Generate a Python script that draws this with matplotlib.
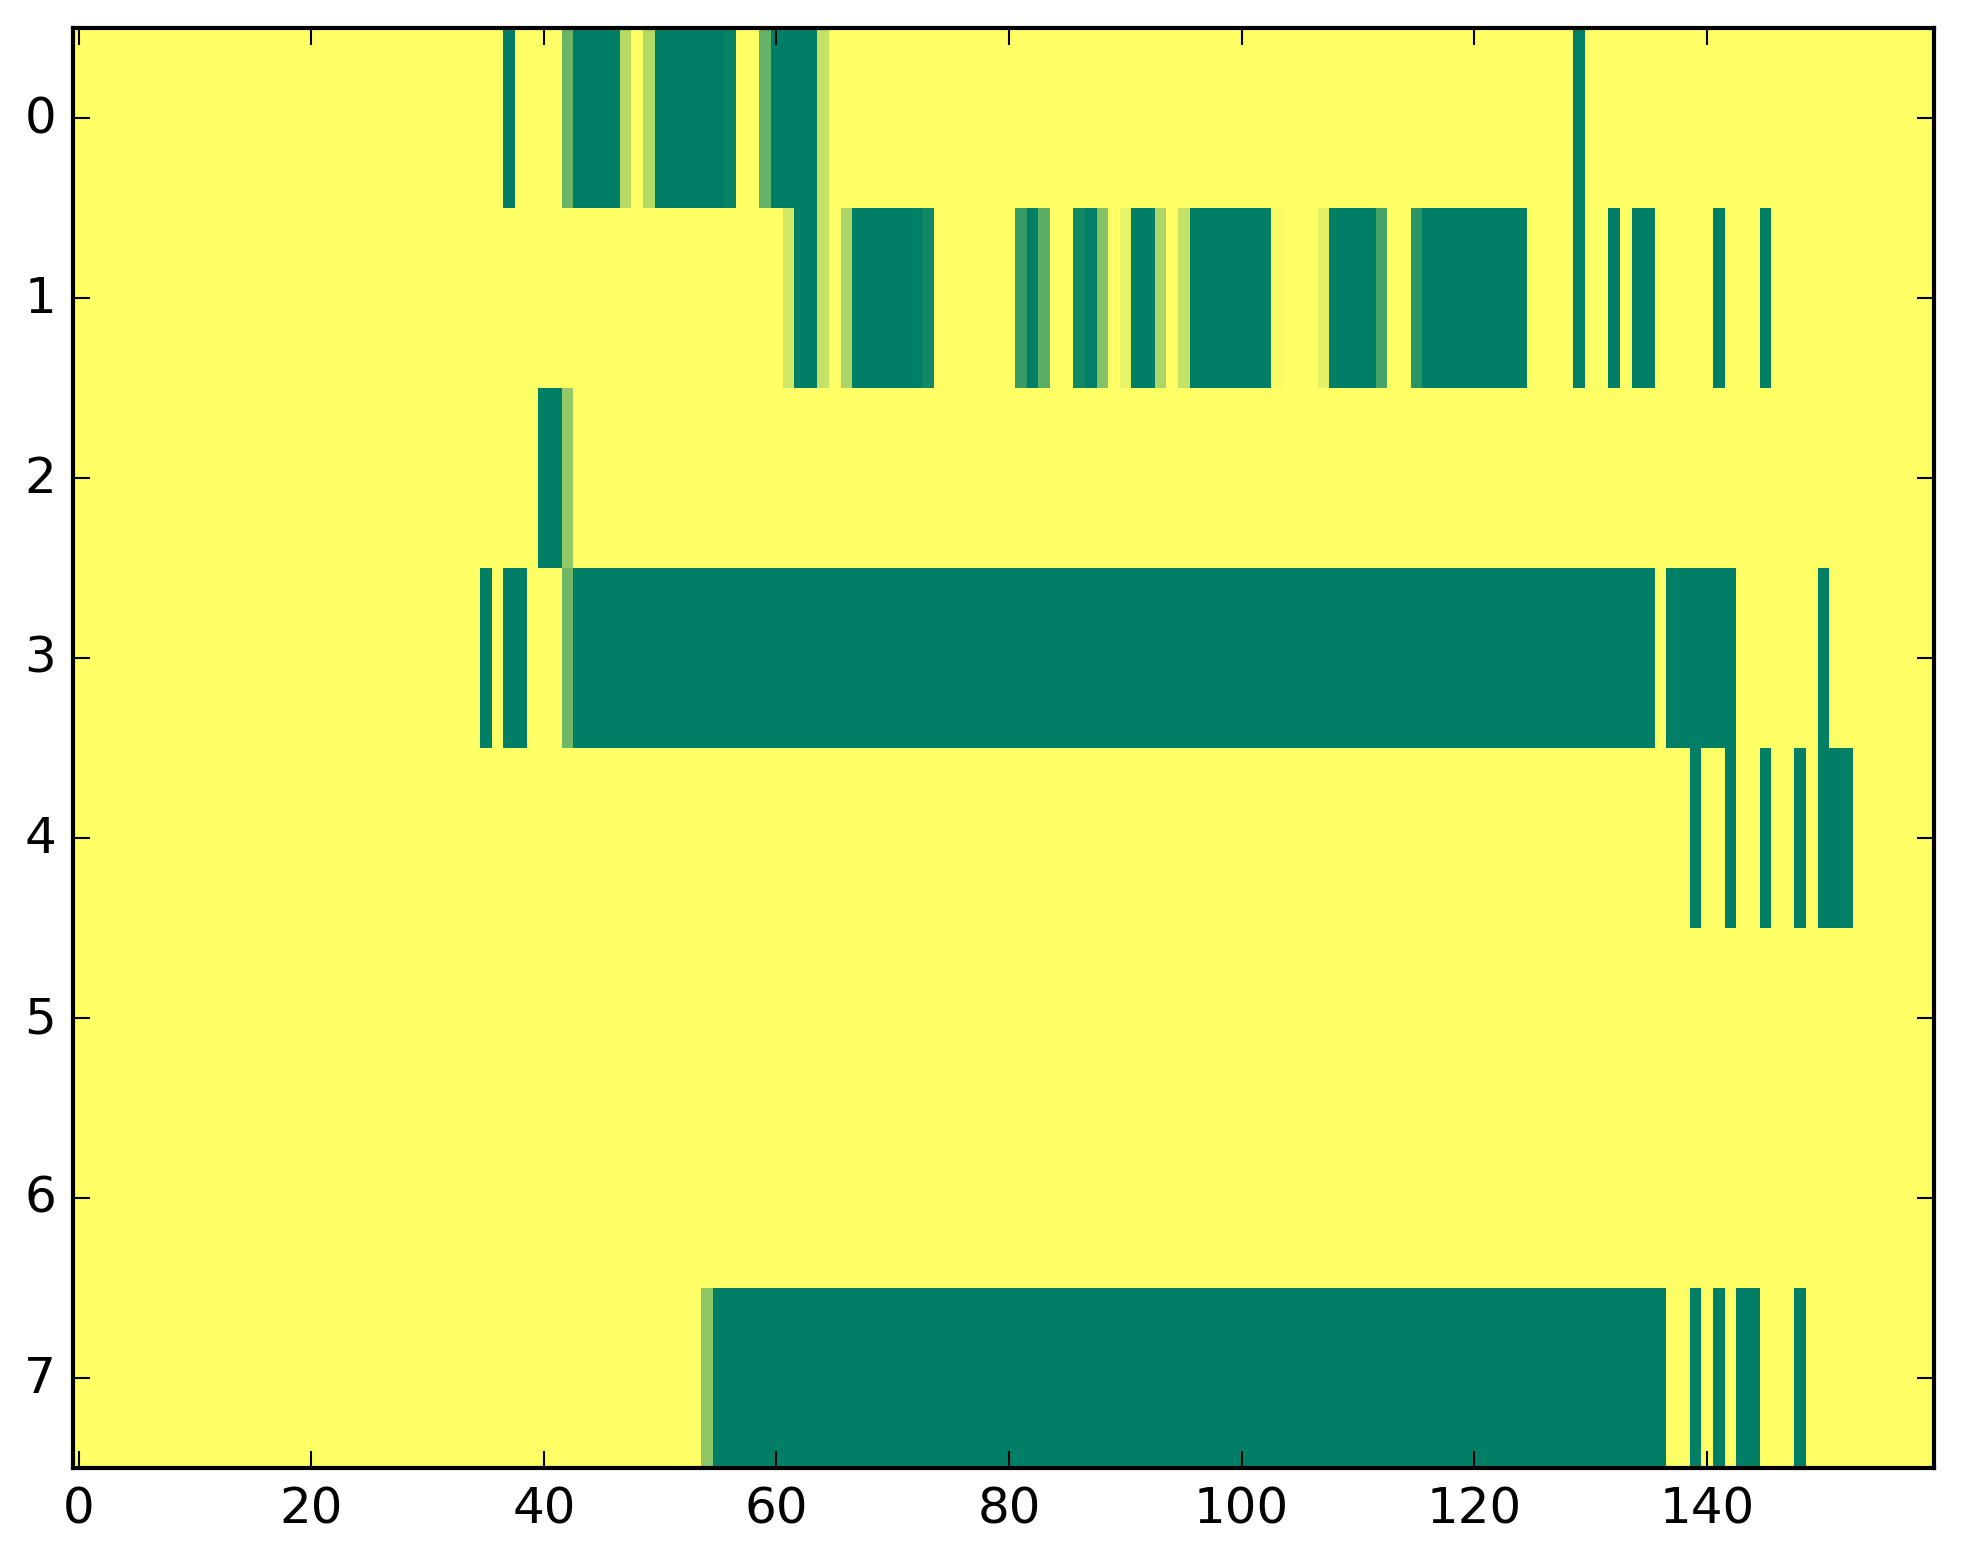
import numpy as np
import matplotlib
matplotlib.use("Agg")
import matplotlib.pyplot as plt

plt.style.use("classic")

n_rows = 8
n_cols = 160

# Non-zero runs per row: (first column, last column, value)
row0 = [(37, 37, 1.0), (42, 42, 0.58), (43, 46, 1.0), (47, 47, 0.29), (49, 49, 0.30),
        (50, 55, 1.0), (56, 56, 0.97), (59, 59, 0.60), (60, 63, 1.0), (64, 64, 0.23),
        (129, 129, 1.0)]
row1 = [(61, 61, 0.18), (62, 63, 1.0), (64, 64, 0.23), (66, 66, 0.33), (67, 72, 1.0),
        (73, 73, 0.93), (81, 81, 0.78), (82, 82, 1.0), (83, 83, 0.64), (86, 86, 0.93),
        (87, 87, 1.0), (88, 88, 0.48), (90, 90, 0.09), (91, 92, 1.0), (93, 93, 0.33),
        (95, 95, 0.23), (96, 102, 1.0), (103, 103, 0.03), (107, 107, 0.11),
        (108, 111, 1.0), (112, 112, 0.72), (115, 115, 0.84), (116, 124, 1.0),
        (129, 129, 1.0), (132, 132, 1.0), (134, 135, 1.0), (141, 141, 1.0),
        (145, 145, 1.0)]
row2 = [(40, 41, 1.0), (42, 42, 0.42)]
row3 = [(35, 35, 1.0), (37, 38, 1.0), (42, 42, 0.56), (43, 135, 1.0), (137, 142, 1.0),
        (150, 150, 1.0)]
row4 = [(139, 139, 1.0), (142, 142, 1.0), (145, 145, 1.0), (148, 148, 1.0),
        (150, 152, 1.0)]
row5 = []
row6 = []
row7 = [(54, 54, 0.44), (55, 136, 1.0), (139, 139, 1.0), (141, 141, 1.0),
        (143, 144, 1.0), (148, 148, 1.0)]

rows = [row0, row1, row2, row3, row4, row5, row6, row7]

data = np.zeros((n_rows, n_cols))
for r, runs in enumerate(rows):
    for a, b, v in runs:
        data[r, a:b + 1] = v

fig = plt.figure(figsize=(1963 / 300, 1564 / 300), dpi=300, facecolor="white")
ax = fig.add_axes([72.8 / 1963, 1 - 1469 / 1564, (1933.6 - 72.8) / 1963, (1469 - 29) / 1564])
ax.imshow(data, cmap="summer_r", vmin=0, vmax=1, aspect="auto",
          interpolation="nearest")
ax.set_xticks(np.arange(0, 141, 20))
ax.set_yticks(np.arange(0, 8))
ax.set_xlim(-0.5, n_cols - 0.5)
ax.set_ylim(n_rows - 0.5, -0.5)
ax.tick_params(labelsize=12)

fig.savefig("out.png", dpi=300, facecolor="white")
